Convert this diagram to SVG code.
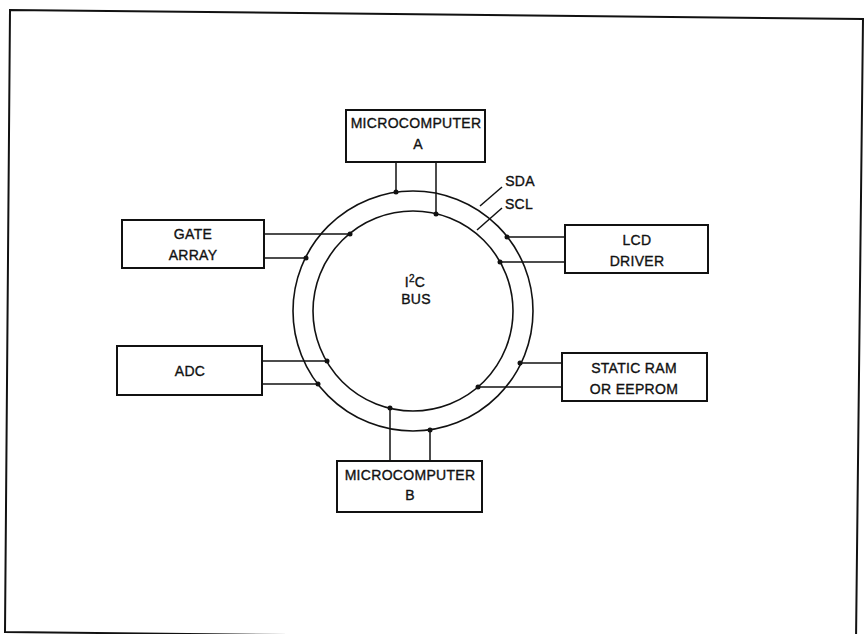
<svg xmlns="http://www.w3.org/2000/svg" width="866" height="634" viewBox="0 0 866 634">
<style>
.frame{fill:none;stroke:#111;stroke-width:2}
.box{fill:#fff;stroke:#111;stroke-width:2}
.ring{fill:none;stroke:#111;stroke-width:1.6}
.wire{fill:none;stroke:#111;stroke-width:1.5}
.dot{fill:#111}
text{font-family:"Liberation Sans",Arial,sans-serif;font-size:14px;fill:#111;stroke:#111;stroke-width:0.35;text-anchor:middle;letter-spacing:0.3px}
</style>
<rect width="866" height="634" fill="#fff"/>
<polygon class="frame" points="10,10 863,19 856,641 5,632"/>

<g id="bus">
<circle class="ring" cx="413" cy="311" r="120"/>
<circle class="ring" cx="413" cy="311" r="100"/>
<text x="415" y="287">I<tspan font-size="10" dy="-5">2</tspan><tspan dy="5">C</tspan></text>
<text x="416" y="304">BUS</text>
</g>

<g id="labels">
<line class="wire" x1="480" y1="206" x2="502" y2="187"/>
<text x="520" y="186">SDA</text>
<line class="wire" x1="477" y1="230" x2="502" y2="208"/>
<text x="519" y="209">SCL</text>
</g>

<g id="connectors">
<line class="wire" x1="396" y1="162" x2="396" y2="192"/>
<line class="wire" x1="436" y1="162" x2="436" y2="214"/>
<line class="wire" x1="264" y1="234" x2="350" y2="234"/>
<line class="wire" x1="264" y1="258" x2="306" y2="258"/>
<line class="wire" x1="507" y1="237" x2="565" y2="237"/>
<line class="wire" x1="500" y1="262" x2="565" y2="262"/>
<line class="wire" x1="262" y1="361" x2="327" y2="361"/>
<line class="wire" x1="262" y1="384" x2="318" y2="384"/>
<line class="wire" x1="520" y1="363" x2="562" y2="363"/>
<line class="wire" x1="478" y1="387" x2="562" y2="387"/>
<line class="wire" x1="390" y1="408" x2="390" y2="461"/>
<line class="wire" x1="430" y1="430" x2="430" y2="461"/>
<circle class="dot" cx="396" cy="192" r="2.5"/>
<circle class="dot" cx="436" cy="214" r="2.5"/>
<circle class="dot" cx="350" cy="234" r="2.5"/>
<circle class="dot" cx="306" cy="258" r="2.5"/>
<circle class="dot" cx="507" cy="237" r="2.5"/>
<circle class="dot" cx="500" cy="262" r="2.5"/>
<circle class="dot" cx="327" cy="361" r="2.5"/>
<circle class="dot" cx="318" cy="384" r="2.5"/>
<circle class="dot" cx="520" cy="363" r="2.5"/>
<circle class="dot" cx="478" cy="387" r="2.5"/>
<circle class="dot" cx="390" cy="408" r="2.5"/>
<circle class="dot" cx="430" cy="430" r="2.5"/>
</g>

<g id="microcomputer-a">
<rect class="box" x="346" y="110" width="139" height="52"/>
<text x="416" y="128">MICROCOMPUTER</text>
<text x="418" y="149">A</text>
</g>

<g id="gate-array">
<rect class="box" x="122" y="220" width="142" height="48"/>
<text x="193" y="239">GATE</text>
<text x="193" y="260">ARRAY</text>
</g>

<g id="lcd-driver">
<rect class="box" x="565" y="225" width="143" height="48"/>
<text x="637" y="245">LCD</text>
<text x="637" y="266">DRIVER</text>
</g>

<g id="adc">
<rect class="box" x="117" y="346" width="145" height="49"/>
<text x="190" y="376">ADC</text>
</g>

<g id="static-ram">
<rect class="box" x="562" y="353" width="145" height="48"/>
<text x="634" y="373">STATIC RAM</text>
<text x="634" y="394">OR EEPROM</text>
</g>

<g id="microcomputer-b">
<rect class="box" x="337" y="461" width="145" height="51"/>
<text x="410" y="480">MICROCOMPUTER</text>
<text x="410" y="500">B</text>
</g>
</svg>
